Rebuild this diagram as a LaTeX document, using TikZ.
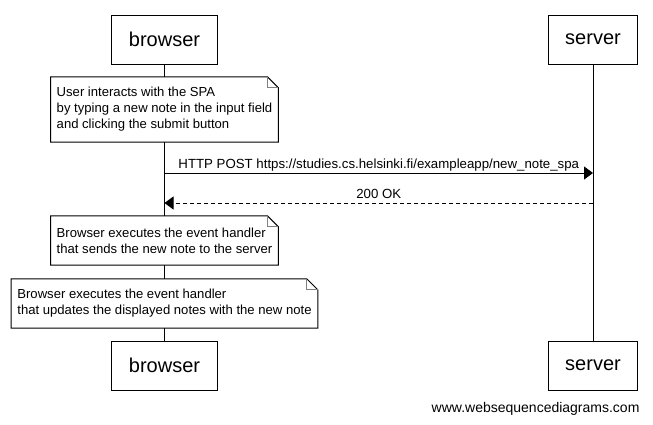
\documentclass[tikz,border=0pt]{standalone}
\usepackage{fontspec}
\setmainfont{Liberation Sans}
\usetikzlibrary{arrows.meta}
\tikzset{
actor/.style={draw, line width=1pt, fill=white, minimum height=49pt, inner xsep=17pt, font=\fontsize{20}{24}\selectfont},
notebox/.style={fill=white, align=left, inner xsep=6pt, minimum height=49pt, font=\fontsize{13.1}{16}\selectfont},
msg/.style={line width=1pt, -{Triangle[length=9pt,width=13pt]}},
msglabel/.style={font=\fontsize{13.25}{16}\selectfont, above, inner sep=4pt, text depth=0pt}
}

\begin{document}
\begin{tikzpicture}[x=1pt, y=-1pt]
    \useasboundingbox (0,0) rectangle (653,424);

                \node[actor] (B1) at (164.5,39.5) {browser};
                \node[actor] (S1) at (593,39.5) {server};
                \node[actor] (B2) at (164.5,365.5) {browser};
                \node[actor] (S2) at (593,365.5) {server};

                \draw[line width=1pt] (B1) -- (B2);
                \draw[line width=1pt] (S1) -- (S2);

                \node[notebox, minimum height=65pt] (N1) at (164.5,109.5) {User interacts with the SPA\\by typing a new note in the input field\\and clicking the submit button};
                \node[notebox] (N2) at (164.5,240.5) {Browser executes the event handler\\that sends the new note to the server};
                \node[notebox] (N3) at (164.5,303.5) {Browser executes the event handler\\that updates the displayed notes with the new note};

                \foreach \n in {N1,N2,N3} {
                    \draw[line width=1pt] (\n.north west) -- ([xshift=-11pt]\n.north east) -- ([yshift=-11pt]\n.north east) -- (\n.south east) -- (\n.south west) -- cycle;
                    \draw[gray, line width=1pt] ([xshift=-11pt]\n.north east) |- ([yshift=-11pt]\n.north east);
                }

                \coordinate (b1) at (164.5,173);
                \coordinate (s1) at (593,173);
                \coordinate (b2) at (164.5,203);
                \coordinate (s2) at (593,203);

                \draw[msg] (b1) -- (s1) node[midway, msglabel] {HTTP POST https://studies.cs.helsinki.fi/exampleapp/new\_note\_spa};
                \draw[msg, dash pattern=on 4pt off 3pt] (s2) -- (b2) node[midway, msglabel] {200 OK};

                \node[font=\fontsize{14}{16}\selectfont, anchor=east] (wsd) at (643,409) {www.websequencediagrams.com};

            \end{tikzpicture}
\end{document}
